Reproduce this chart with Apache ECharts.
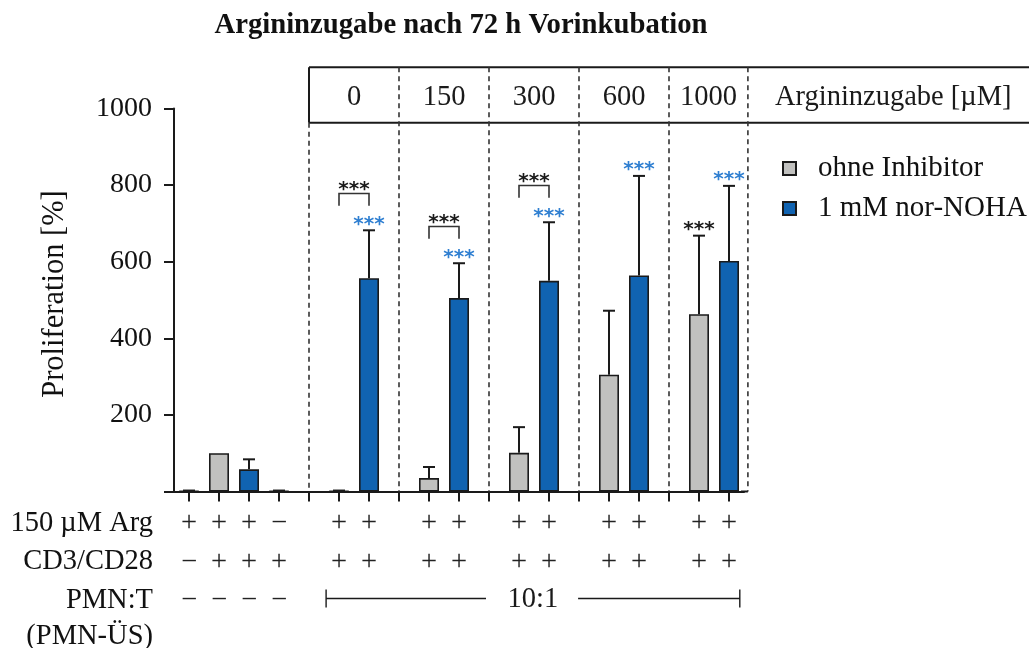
<!DOCTYPE html>
<html>
<head>
<meta charset="utf-8">
<script src="https://cdn.jsdelivr.net/npm/echarts@6/dist/echarts.min.js"></script>
<style>
  html, body { margin: 0; padding: 0; background: #fff; }
  #chart { width: 1029px; height: 648px; }
</style>
</head>
<body>
<div id="chart"></div>
<script>
// 19 slots along the x axis; the empty ones separate the arginine groups
const slots = ['s0','s1','s2','s3','s4','s5','s6','s7','s8','s9','s10','s11','s12','s13','s14','s15','s16','s17','s18'];

// Treatment rows printed under the axis
const argRow = ['+','+','+','\u2212','','+','+','','+','+','','+','+','','+','+','','+','+'];
const cd3Row = ['\u2212','+','+','+','','+','+','','+','+','','+','+','','+','+','','+','+'];
const pmnRow = ['\u2212','\u2212','\u2212','\u2212','','','','','','','','','','','','','','',''];
const rowTitles = ['150 \u00b5M Arg', 'CD3/CD28', 'PMN:T', '(PMN-\u00dcS)'];
const ratioLabel = '10:1';

// Arginine added after 72 h pre-incubation [µM]
const argDoses = ['0', '150', '300', '600', '1000'];
const argTitle = 'Argininzugabe [\u00b5M]';

// Proliferation [%], mean and SD
const ohneInhibitor   = [1, 100, '-', 1, '-', 1, '-', '-', 35, '-', '-', 101, '-', '-', 305, '-', '-', 463, '-'];
const ohneInhibitorSD = [1.5, null, null, 1.5, null, 1.5, null, null, 29, null, null, 67, null, null, 167, null, null, 205, null];
const norNOHA   = ['-', '-', 58, '-', '-', '-', 557, '-', '-', 505, '-', '-', 550, '-', '-', 564, '-', '-', 602];
const norNOHASD = [null, null, 26, null, null, null, 125, null, null, 91, null, null, 153, null, null, 260, null, null, 196];

// Significance marks (***)
const sigNorNOHA = [6, 9, 12, 15, 18];           // above nor-NOHA bars
const sigPairs = [[5, 6], [8, 9], [11, 12]];     // bracketed comparisons
const sigOhne = [17];                             // above ohne-Inhibitor bar
const starText = '***';

const FONT = '"Liberation Serif", "Times New Roman", serif';
const INK = '#1a1a1a';
const GREY = '#c1c1bf';
const BLUE = '#1063b1';
const STAR_BLUE = '#2f7fd1';
const TXT = 28.5;

function errPoints(means, sds) {
  const out = [];
  means.forEach((m, i) => {
    if (m !== '-' && sds[i] != null) out.push([i, m, sds[i]]);
  });
  return out;
}

function topOf(i) {
  if (norNOHA[i] !== '-') return norNOHA[i] + (norNOHASD[i] || 0);
  return ohneInhibitor[i] + (ohneInhibitorSD[i] || 0);
}

function renderErr(params, api) {
  const x = api.value(0), m = api.value(1), sd = api.value(2);
  const base = api.coord([x, m]);
  const top = api.coord([x, m + sd]);
  const hw = 6;
  return {
    type: 'group',
    children: [
      { type: 'line', shape: { x1: base[0], y1: base[1], x2: top[0], y2: top[1] }, style: { stroke: INK, lineWidth: 2 } },
      { type: 'line', shape: { x1: top[0] - hw, y1: top[1], x2: top[0] + hw, y2: top[1] }, style: { stroke: INK, lineWidth: 2 } }
    ]
  };
}

function txt(text, x, y, font, fill, align, valign) {
  return {
    type: 'text',
    style: { text, x, y, font, fill, align, verticalAlign: valign, textAlign: align, textVerticalAlign: valign }
  };
}

// Header box, group dividers and the PMN:T ratio bracket
const dividers = [4, 7, 10, 13, 16, 18.63];
function renderFrame(params, api) {
  const c0 = api.coord([0, 0]);
  const w = api.size([1, 0])[0];
  const X = s => c0[0] + s * w;
  const Y = v => api.coord([0, v])[1];
  const y0 = c0[1];
  const yTop = Y(1108), yBot = Y(963);
  const W = api.getWidth();
  const ch = [];
  const solid = { stroke: INK, lineWidth: 2 };
  const dashed = { stroke: '#333', lineWidth: 1.6, lineDash: [5, 4] };

  ch.push({ type: 'line', shape: { x1: X(dividers[0]), y1: yTop, x2: W + 5, y2: yTop }, style: solid });
  ch.push({ type: 'line', shape: { x1: X(dividers[0]), y1: yBot, x2: W + 5, y2: yBot }, style: solid });
  ch.push({ type: 'line', shape: { x1: X(dividers[0]), y1: yTop, x2: X(dividers[0]), y2: yBot }, style: solid });
  ch.push({ type: 'line', shape: { x1: X(dividers[0]), y1: yBot, x2: X(dividers[0]), y2: y0 }, style: dashed });
  for (let k = 1; k < dividers.length; k++) {
    ch.push({ type: 'line', shape: { x1: X(dividers[k]), y1: yTop, x2: X(dividers[k]), y2: y0 }, style: dashed });
  }
  // x axis runs on to the last divider
  ch.push({ type: 'line', shape: { x1: X(18.4), y1: y0, x2: X(dividers[5]), y2: y0 }, style: solid });

  const yMid = (yTop + yBot) / 2 + 3;
  argDoses.forEach((d, k) => {
    ch.push(txt(d, (X(dividers[k]) + X(dividers[k + 1])) / 2, yMid, TXT + 'px ' + FONT, INK, 'center', 'middle'));
  });
  ch.push(txt(argTitle, X(dividers[5]) + 27, yMid, TXT + 'px ' + FONT, INK, 'left', 'middle'));

  // PMN:T 10:1 range
  const yr = y0 + 107;
  const xa = X(4.57), xb = X(18.36);
  const thin = { stroke: INK, lineWidth: 1.4 };
  ch.push({ type: 'line', shape: { x1: xa, y1: yr - 9, x2: xa, y2: yr + 9 }, style: thin });
  ch.push({ type: 'line', shape: { x1: xb, y1: yr - 9, x2: xb, y2: yr + 9 }, style: thin });
  ch.push({ type: 'line', shape: { x1: xa, y1: yr, x2: X(9.9), y2: yr }, style: thin });
  ch.push({ type: 'line', shape: { x1: X(12.97), y1: yr, x2: xb, y2: yr }, style: thin });
  ch.push(txt(ratioLabel, X(11.46), yr + 1, TXT + 'px ' + FONT, INK, 'center', 'middle'));

  return { type: 'group', children: ch };
}

// *** marks and comparison brackets, placed above the error bars
function renderSig(params, api) {
  const c0 = api.coord([0, 0]);
  const w = api.size([1, 0])[0];
  const X = s => c0[0] + s * w;
  const Y = v => api.coord([0, v])[1];
  const ch = [];
  const starFont = 'bold 20px "DejaVu Sans", sans-serif';
  const dy = 5;
  const blueStarVal = {};
  sigNorNOHA.forEach(i => {
    const v = topOf(i) + 28;
    blueStarVal[i] = v;
    ch.push(txt(starText, X(i), Y(v) + dy, starFont, STAR_BLUE, 'center', 'middle'));
  });
  sigOhne.forEach(i => {
    const v = ohneInhibitor[i] + ohneInhibitorSD[i] + 29;
    ch.push(txt(starText, X(i), Y(v) + dy, starFont, INK, 'center', 'middle'));
  });
  sigPairs.forEach(([a, b]) => {
    const legBottom = blueStarVal[b] + 36;
    const legTop = legBottom + 32;
    const xa = X(a), xb = X(b), yb = Y(legBottom), yt = Y(legTop);
    ch.push({
      type: 'polyline',
      shape: { points: [[xa, yb], [xa, yt], [xb, yt], [xb, yb]] },
      style: { stroke: '#333', lineWidth: 1.6, fill: null }
    });
    ch.push(txt(starText, (xa + xb) / 2, Y(legTop + 22) + dy, starFont, INK, 'center', 'middle'));
  });
  return { type: 'group', children: ch };
}

const chart = echarts.init(document.getElementById('chart'));

const rowAxis = (labels, offset, main) => ({
  type: 'category',
  data: slots,
  position: 'bottom',
  offset: offset,
  boundaryGap: true,
  axisLine: { show: main, onZero: false, lineStyle: { color: INK, width: 2 } },
  axisTick: { show: main, alignWithLabel: true, length: 10, lineStyle: { color: INK, width: 2 } },
  axisLabel: {
    interval: 0,
    margin: 18,
    formatter: (v, i) => labels[i],
    fontFamily: FONT,
    fontSize: TXT,
    color: '#222'
  },
  splitLine: { show: false }
});

const rowY = [524, 562, 601, 637];

chart.setOption({
  animation: false,
  backgroundColor: '#fff',
  title: {
    text: 'Argininzugabe nach 72 h Vorinkubation',
    left: 456,
    textAlign: 'center',
    top: 6,
    textStyle: { fontFamily: FONT, fontSize: 28.7, fontWeight: 'bold', color: '#111' }
  },
  legend: {
    orient: 'vertical',
    left: 782,
    top: 154,
    padding: 0,
    itemWidth: 13,
    itemHeight: 13,
    itemGap: 11,
    icon: 'rect',
    data: ['ohne Inhibitor', '1 mM nor-NOHA'],
    textStyle: { fontFamily: FONT, fontSize: 29, color: '#111', padding: [0, 0, 0, 17], lineHeight: 28 }
  },
  grid: { left: 174, top: 108.5, width: 570, bottom: 156.5, containLabel: false },
  xAxis: [
    rowAxis(argRow, 0, true),
    rowAxis(cd3Row, 39, false),
    rowAxis(pmnRow, 77, false)
  ],
  yAxis: {
    type: 'value',
    min: 0,
    max: 1000,
    interval: 200,
    axisLine: { show: true, lineStyle: { color: INK, width: 2 } },
    axisTick: { show: true, length: 10, lineStyle: { color: INK, width: 2 } },
    axisLabel: {
      formatter: v => (v === 0 ? '' : String(v)),
      fontFamily: FONT,
      fontSize: 28,
      color: '#111',
      margin: 22
    },
    splitLine: { show: false }
  },
  graphic: rowTitles.map((t, k) => ({
    type: 'text',
    x: 153,
    y: rowY[k],
    style: {
      text: t,
      font: TXT + 'px ' + FONT,
      fill: '#111',
      align: 'right',
      verticalAlign: 'middle',
      textAlign: 'right',
      textVerticalAlign: 'middle'
    }
  })).concat([{
    type: 'text',
    x: 55,
    y: 294,
    rotation: Math.PI / 2,
    style: {
      text: 'Proliferation [%]',
      font: '30.5px ' + FONT,
      fill: '#111',
      align: 'center',
      verticalAlign: 'middle',
      textAlign: 'center',
      textVerticalAlign: 'middle'
    }
  }]),
  series: [
    {
      name: 'ohne Inhibitor',
      type: 'bar',
      data: ohneInhibitor,
      barWidth: 20,
      barGap: '-100%',
      itemStyle: { color: GREY, borderColor: INK, borderWidth: 1.6 },
      z: 2
    },
    {
      name: '1 mM nor-NOHA',
      type: 'bar',
      data: norNOHA,
      barWidth: 20,
      barGap: '-100%',
      itemStyle: { color: BLUE, borderColor: INK, borderWidth: 1.6 },
      z: 2
    },
    {
      type: 'custom',
      renderItem: renderErr,
      data: errPoints(ohneInhibitor, ohneInhibitorSD).concat(errPoints(norNOHA, norNOHASD)),
      encode: { x: 0, y: 1 },
      z: 3,
      silent: true
    },
    {
      type: 'custom',
      renderItem: renderFrame,
      data: [[0, 0]],
      clip: false,
      z: 1,
      silent: true
    },
    {
      type: 'custom',
      renderItem: renderSig,
      data: [[0, 0]],
      clip: false,
      z: 4,
      silent: true
    }
  ]
});
</script>
</body>
</html>
